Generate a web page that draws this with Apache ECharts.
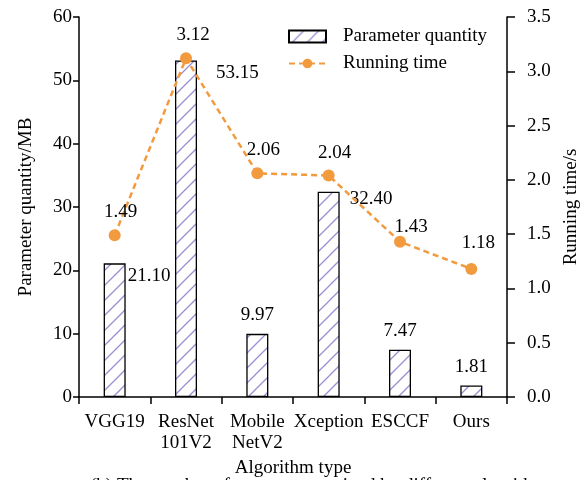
<!DOCTYPE html>
<html><head><meta charset="utf-8">
<script src="https://cdn.jsdelivr.net/npm/echarts@6/dist/echarts.min.js"></script>
<style>html,body{margin:0;padding:0;background:#fff}#c{width:587px;height:480px}</style>
</head><body><div id="c"></div>
<script>
var categories = ['VGG19', 'ResNet\n101V2', 'Mobile\nNetV2', 'Xception', 'ESCCF', 'Ours'];
var paramQuantity = [21.10, 53.15, 9.97, 32.40, 7.47, 1.81];
var runningTime = [1.49, 3.12, 2.06, 2.04, 1.43, 1.18];
var leftTicks = {min: 0, max: 60, interval: 10};
var rightTicks = {min: 0, max: 3.5, interval: 0.5};

var FONT = '"Liberation Serif", "Times New Roman", serif';
var FS = 19;

function makePattern() {
  var s = 15;
  var cv = document.createElement('canvas');
  cv.width = s; cv.height = s;
  var ctx = cv.getContext('2d');
  ctx.fillStyle = '#ffffff';
  ctx.fillRect(0, 0, s, s);
  ctx.strokeStyle = '#9a8ed3';
  ctx.lineWidth = 1.3;
  ctx.beginPath();
  ctx.moveTo(-2, s + 2); ctx.lineTo(s + 2, -2);
  ctx.moveTo(-2, 2); ctx.lineTo(2, -2);
  ctx.moveTo(s - 2, s + 2); ctx.lineTo(s + 2, s - 2);
  ctx.stroke();
  return cv;
}
var pattern = {image: makePattern(), repeat: 'repeat'};

var barLabelCfg = [
  {position: ['100%', 0], offset: [2, 13], align: 'left', verticalAlign: 'middle'},
  {position: ['100%', 0], offset: [19, 13], align: 'left', verticalAlign: 'middle'},
  {position: 'top', distance: 9},
  {position: ['100%', 0], offset: [10, 7], align: 'left', verticalAlign: 'middle'},
  {position: 'top', distance: 9},
  {position: 'top', distance: 9}
];
var lineLabelCfg = [
  [6, -3], [7, -3], [6, -3], [6, -2], [11, 6], [7, -5]
];

var barData = paramQuantity.map(function (v, i) {
  return {value: v, label: barLabelCfg[i]};
});
var lineData = runningTime.map(function (v, i) {
  return {value: v, label: {offset: lineLabelCfg[i]}};
});

var chart = echarts.init(document.getElementById('c'), null, {renderer: 'canvas'});
chart.setOption({
  animation: false,
  backgroundColor: '#fff',
  textStyle: {fontFamily: FONT, fontSize: FS, color: '#000'},
  grid: {left: 79, right: 80, top: 17, bottom: 83, outerBoundsMode: 'none', containLabel: false},
  legend: {
    left: 283, top: 22, orient: 'vertical', itemGap: 8,
    itemWidth: 37, itemHeight: 12,
    textStyle: {fontFamily: FONT, fontSize: FS, color: '#000', padding: [0, 0, 0, 12]},
    data: [
      {name: 'Parameter quantity', icon: 'rect'},
      {name: 'Running time'}
    ]
  },
  xAxis: {
    type: 'category', data: categories,
    name: 'Algorithm type', nameLocation: 'middle', nameGap: 61,
    nameTextStyle: {fontFamily: FONT, fontSize: FS, color: '#000'},
    axisLine: {lineStyle: {color: '#000', width: 1.5}},
    axisTick: {show: true, length: 7, lineStyle: {color: '#000', width: 1.5}},
    axisLabel: {fontFamily: FONT, fontSize: FS, color: '#000', margin: 15, lineHeight: 21, interval: 0},
    splitLine: {show: false}
  },
  yAxis: [
    {
      type: 'value', min: leftTicks.min, max: leftTicks.max, interval: leftTicks.interval,
      name: 'Parameter quantity/MB', nameLocation: 'middle', nameGap: 43, nameRotate: 90,
      nameTextStyle: {fontFamily: FONT, fontSize: FS, color: '#000'},
      axisLine: {show: true, lineStyle: {color: '#000', width: 1.5}},
      axisTick: {show: true, length: 6, lineStyle: {color: '#000', width: 1.5}},
      axisLabel: {fontFamily: FONT, fontSize: FS, color: '#000', margin: 7},
      splitLine: {show: false}
    },
    {
      type: 'value', position: 'right', min: rightTicks.min, max: rightTicks.max, interval: rightTicks.interval,
      name: 'Running time/s', nameLocation: 'middle', nameGap: 50, nameRotate: 90,
      nameTextStyle: {fontFamily: FONT, fontSize: FS, color: '#000'},
      axisLine: {show: true, lineStyle: {color: '#000', width: 1.5}},
      axisTick: {show: true, length: 8, lineStyle: {color: '#000', width: 1.5}},
      axisLabel: {fontFamily: FONT, fontSize: FS, color: '#000', margin: 20,
        formatter: function (v) { return v.toFixed(1); }},
      splitLine: {show: false}
    }
  ],
  series: [
    {
      name: 'Parameter quantity', type: 'bar', yAxisIndex: 0,
      data: barData, barWidth: 22,
      itemStyle: {color: pattern, borderColor: '#000', borderWidth: 1.3},
      label: {show: true, fontFamily: FONT, fontSize: FS, color: '#000',
        formatter: function (p) { return p.value.toFixed(2); }},
      z: 2
    },
    {
      name: 'Running time', type: 'line', yAxisIndex: 1,
      data: lineData,
      symbol: 'circle', symbolSize: 12,
      lineStyle: {color: '#f19a3e', width: 2.5, type: [6, 4]},
      itemStyle: {color: '#f19a3e'},
      label: {show: true, position: 'top', fontFamily: FONT, fontSize: FS, color: '#000',
        formatter: function (p) { return p.value.toFixed(2); }},
      z: 3
    }
  ],
  graphic: [
    {type: 'text', left: 90, top: 477,
      style: {text: '(b) The number of parameters trained by different algorithms', font: FS + 'px ' + FONT, fill: '#000'}}
  ]
});
</script></body></html>
